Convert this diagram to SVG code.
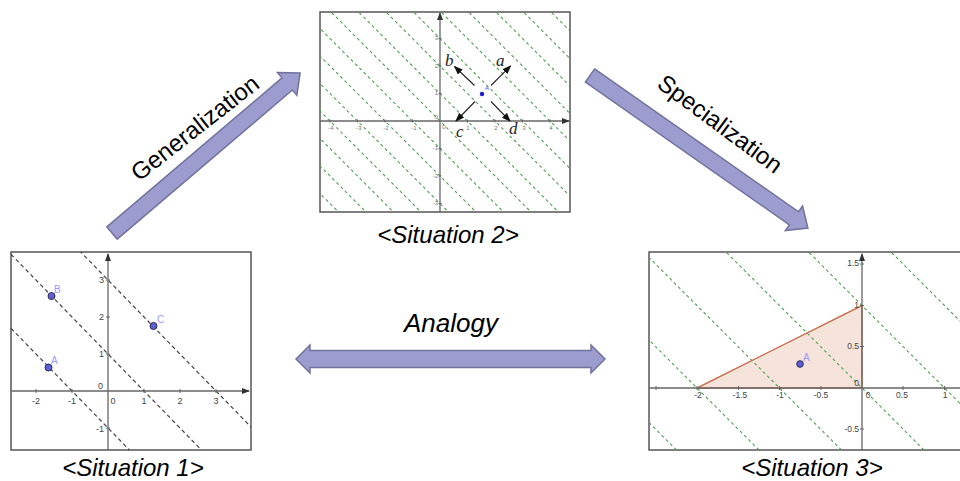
<svg xmlns="http://www.w3.org/2000/svg" width="960" height="481" viewBox="0 0 960 481">
<style>
.frame{fill:#fff;stroke:#555;stroke-width:1.5}
.axis{stroke:#666;stroke-width:1.3;fill:none}
.tick{stroke:#666;stroke-width:1}
.gl{stroke:#4f9f4f;stroke-width:1.1;stroke-dasharray:3 3;fill:none}
.kl{stroke:#444;stroke-width:1.2;stroke-dasharray:4 3;fill:none}
.tl{font-family:"Liberation Sans",Arial,sans-serif;fill:#444}
.t2{font-size:6px;fill:#777}
.t1{font-size:9px}
.t3{font-size:8.5px}
.pt{fill:#5e5ed6;stroke:#2a2a55;stroke-width:1}
.pl{font-family:"Liberation Sans",Arial,sans-serif;fill:#9a9aff;font-size:10px}
.cap{font-family:"Liberation Sans",Arial,sans-serif;font-style:italic;font-size:24px;fill:#000;text-anchor:middle}
.arr{fill:#9c9ccf;stroke:#72729e;stroke-width:1.5}
.al{font-family:"Liberation Sans",Arial,sans-serif;font-size:24px;fill:#000;text-anchor:middle}
.vl{font-family:"Liberation Serif","Times New Roman",serif;font-style:italic;font-size:17px;fill:#222}
.vec{stroke:#222;stroke-width:1.1;fill:none}
</style>
<defs>
<marker id="ax" markerWidth="8" markerHeight="6" refX="7" refY="3" orient="auto" markerUnits="userSpaceOnUse"><path d="M0,0 L8,3 L0,6 z" fill="#333"/></marker>
<marker id="vh" markerWidth="9" markerHeight="7" refX="8" refY="3.5" orient="auto" markerUnits="userSpaceOnUse"><path d="M0,0 L9,3.5 L0,7 z" fill="#111"/></marker>
<clipPath id="c1"><rect x="11" y="252" width="240" height="198"/></clipPath>
<clipPath id="c2"><rect x="320" y="12" width="250" height="200"/></clipPath>
<clipPath id="c3"><rect x="649" y="252" width="320" height="198"/></clipPath>
</defs>
<rect width="960" height="481" fill="#fff"/>

<!-- Situation 1 -->
<g id="situation1">
<rect class="frame" x="11" y="252" width="240" height="198"/>
<g clip-path="url(#c1)">
<line class="kl" x1="-72" y1="95" x2="324" y2="502"/>
<line class="kl" x1="-72" y1="169" x2="324" y2="576"/>
<line class="kl" x1="-72" y1="243" x2="324" y2="650"/>
</g>
<line class="axis" x1="11" y1="391" x2="249" y2="391" marker-end="url(#ax)"/>
<line class="axis" x1="108" y1="450" x2="108" y2="254" marker-end="url(#ax)"/>
<g class="tick">
<line x1="36" y1="389" x2="36" y2="393"/><line x1="72" y1="389" x2="72" y2="393"/><line x1="144" y1="389" x2="144" y2="393"/><line x1="180" y1="389" x2="180" y2="393"/><line x1="216" y1="389" x2="216" y2="393"/>
<line x1="106" y1="280" x2="110" y2="280"/><line x1="106" y1="317" x2="110" y2="317"/><line x1="106" y1="354" x2="110" y2="354"/><line x1="106" y1="428" x2="110" y2="428"/>
</g>
<g class="tl t1" text-anchor="middle">
<text x="36" y="404">-2</text><text x="72" y="404">-1</text><text x="113" y="404">0</text><text x="144" y="404">1</text><text x="180" y="404">2</text><text x="216" y="404">3</text>
</g>
<g class="tl t1" text-anchor="end">
<text x="104" y="283">3</text><text x="104" y="320">2</text><text x="104" y="357">1</text><text x="103" y="389">0</text><text x="104" y="432">-1</text>
</g>
<circle class="pt" cx="48.5" cy="367.5" r="3.5"/>
<circle class="pt" cx="51.5" cy="296" r="3.5"/>
<circle class="pt" cx="153.5" cy="326" r="3.5"/>
<text class="pl" x="51" y="364">A</text>
<text class="pl" x="54" y="293">B</text>
<text class="pl" x="157" y="323">C</text>
</g>

<!-- Situation 2 -->
<g id="situation2">
<rect class="frame" x="320" y="12" width="250" height="200"/>
<g clip-path="url(#c2)">
<line class="gl" x1="126.5" y1="0" x2="356.5" y2="230"/>
<line class="gl" x1="154" y1="0" x2="384" y2="230"/>
<line class="gl" x1="181.5" y1="0" x2="411.5" y2="230"/>
<line class="gl" x1="209" y1="0" x2="439" y2="230"/>
<line class="gl" x1="236.5" y1="0" x2="466.5" y2="230"/>
<line class="gl" x1="264" y1="0" x2="494" y2="230"/>
<line class="gl" x1="291.5" y1="0" x2="521.5" y2="230"/>
<line class="gl" x1="319" y1="0" x2="549" y2="230"/>
<line class="gl" x1="346.5" y1="0" x2="576.5" y2="230"/>
<line class="gl" x1="374" y1="0" x2="604" y2="230"/>
<line class="gl" x1="401.5" y1="0" x2="631.5" y2="230"/>
<line class="gl" x1="429" y1="0" x2="659" y2="230"/>
<line class="gl" x1="456.5" y1="0" x2="686.5" y2="230"/>
<line class="gl" x1="484" y1="0" x2="714" y2="230"/>
<line class="gl" x1="511.5" y1="0" x2="741.5" y2="230"/>
<line class="gl" x1="539" y1="0" x2="769" y2="230"/>
</g>
<line class="axis" x1="320" y1="121" x2="569" y2="121" marker-end="url(#ax)"/>
<line class="axis" x1="440" y1="212" x2="440" y2="13" marker-end="url(#ax)"/>
<g class="tick">
<line x1="330" y1="119.5" x2="330" y2="122.5"/><line x1="357.5" y1="119.5" x2="357.5" y2="122.5"/><line x1="385" y1="119.5" x2="385" y2="122.5"/><line x1="412.5" y1="119.5" x2="412.5" y2="122.5"/><line x1="467.5" y1="119.5" x2="467.5" y2="122.5"/><line x1="495" y1="119.5" x2="495" y2="122.5"/><line x1="522.5" y1="119.5" x2="522.5" y2="122.5"/><line x1="550" y1="119.5" x2="550" y2="122.5"/>
<line x1="438.5" y1="38.5" x2="441.5" y2="38.5"/><line x1="438.5" y1="66" x2="441.5" y2="66"/><line x1="438.5" y1="93.5" x2="441.5" y2="93.5"/><line x1="438.5" y1="148.5" x2="441.5" y2="148.5"/><line x1="438.5" y1="176" x2="441.5" y2="176"/><line x1="438.5" y1="203.5" x2="441.5" y2="203.5"/>
</g>
<g class="tl t2" text-anchor="middle">
<text x="331" y="130">-4</text><text x="359" y="130">-3</text><text x="386" y="130">-2</text><text x="414" y="130">-1</text><text x="444" y="129">0</text><text x="468" y="130">1</text><text x="496" y="130">2</text><text x="524" y="130">3</text><text x="551" y="130">4</text>
</g>
<g class="tl t2" text-anchor="end">
<text x="438" y="40">3</text><text x="438" y="68">2</text><text x="438" y="95">1</text><text x="438" y="119">0</text><text x="438" y="150">-1</text><text x="438" y="178">-2</text><text x="438" y="205">-3</text>
</g>
<line class="vec" x1="491" y1="85.5" x2="510.5" y2="66" marker-end="url(#vh)"/>
<line class="vec" x1="474.5" y1="85.5" x2="454.5" y2="66.5" marker-end="url(#vh)"/>
<line class="vec" x1="475" y1="101.5" x2="456" y2="121" marker-end="url(#vh)"/>
<line class="vec" x1="491" y1="101.5" x2="510" y2="121" marker-end="url(#vh)"/>
<text class="vl" x="445" y="66">b</text>
<text class="vl" x="496" y="66">a</text>
<text class="vl" x="456" y="137">c</text>
<text class="vl" x="509" y="134">d</text>
<circle cx="482" cy="94" r="2.2" fill="#1a1acc"/>
<text x="485" y="90" font-family="Liberation Sans,Arial,sans-serif" font-size="6" fill="#4a4aff">A</text>
</g>

<!-- Situation 3 -->
<g id="situation3">
<rect class="frame" x="649" y="252" width="320" height="198"/>
<polygon points="697,388 862,305.5 862,388" fill="#f6e4dc" stroke="#c77650" stroke-width="1.5"/>
<g clip-path="url(#c3)">
<line class="gl" x1="466.5" y1="240" x2="686.5" y2="460"/>
<line class="gl" x1="549" y1="240" x2="769" y2="460"/>
<line class="gl" x1="631.5" y1="240" x2="851.5" y2="460"/>
<line class="gl" x1="714" y1="240" x2="934" y2="460"/>
<line class="gl" x1="796.5" y1="240" x2="1016.5" y2="460"/>
<line class="gl" x1="879" y1="240" x2="1099" y2="460"/>
</g>
<line class="axis" x1="649" y1="388" x2="960" y2="388"/>
<line class="axis" x1="862" y1="450" x2="862" y2="254" marker-end="url(#ax)"/>
<g class="tick">
<line x1="656" y1="386" x2="656" y2="390"/><line x1="697" y1="386" x2="697" y2="390"/><line x1="738.5" y1="386" x2="738.5" y2="390"/><line x1="779.5" y1="386" x2="779.5" y2="390"/><line x1="821" y1="386" x2="821" y2="390"/><line x1="903" y1="386" x2="903" y2="390"/><line x1="944.5" y1="386" x2="944.5" y2="390"/>
<line x1="860" y1="264" x2="864" y2="264"/><line x1="860" y1="305.5" x2="864" y2="305.5"/><line x1="860" y1="346.5" x2="864" y2="346.5"/><line x1="860" y1="429" x2="864" y2="429"/>
</g>
<g class="tl t3" text-anchor="middle">
<text x="698" y="398">-2</text><text x="740" y="398">-1.5</text><text x="780" y="398">-1</text><text x="821" y="398">-0.5</text><text x="868" y="398">0</text><text x="902" y="398">0.5</text><text x="945" y="398">1</text>
</g>
<g class="tl t3" text-anchor="end">
<text x="859" y="266">1.5</text><text x="859" y="308">1</text><text x="859" y="349">0.5</text><text x="859" y="386">0</text><text x="859" y="432">-0.5</text>
</g>
<circle class="pt" cx="800" cy="364" r="3.3"/>
<text class="pl" x="803" y="361">A</text>
</g>

<!-- Captions -->
<g id="captions">
<text class="cap" x="133" y="476">&lt;Situation 1&gt;</text>
<text class="cap" x="448" y="243">&lt;Situation 2&gt;</text>
<text class="cap" x="812" y="476">&lt;Situation 3&gt;</text>
</g>

<!-- Connectors -->
<g id="connectors">
<g id="generalization">
<polygon class="arr" transform="translate(112,233) rotate(-40.4)" points="0,-8 230,-8 230,-15 247,0 230,15 230,8 0,8"/>
<text class="al" transform="translate(195,128) rotate(-38)" x="0" y="8">Generalization</text>
</g>
<g id="specialization">
<polygon class="arr" transform="translate(590,75.5) rotate(35)" points="0,-8 249,-8 249,-15 266,0 249,15 249,8 0,8"/>
<text class="al" transform="translate(720,124) rotate(36.5)" x="0" y="8">Specialization</text>
</g>
<g id="analogy">
<polygon class="arr" points="296,359 310,345 310,350.5 591,350.5 591,345 605,359 591,373 591,367.5 310,367.5 310,373"/>
<text class="al" x="451" y="332" style="font-style:italic;font-size:26px">Analogy</text>
</g>
</g>
</svg>
